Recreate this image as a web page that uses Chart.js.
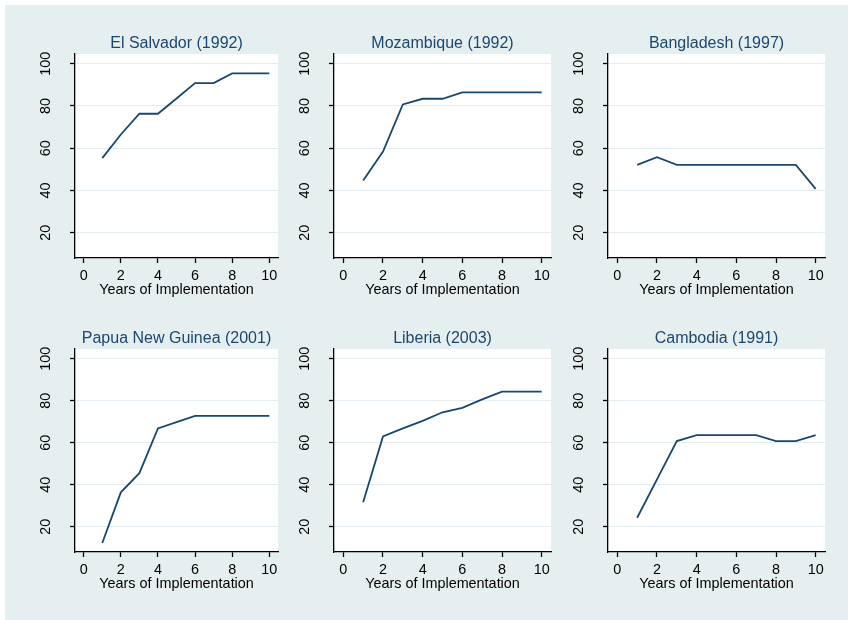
<!DOCTYPE html>
<html><head><meta charset="utf-8">
<script src="https://cdn.jsdelivr.net/npm/chart.js@4"></script>
<style>
html,body{margin:0;padding:0;background:#fff;width:848px;height:620px;overflow:hidden;}
#bg{position:absolute;left:5px;top:5px;width:843px;height:615px;background:#e6eff0;}
canvas{position:absolute;}
</style></head><body>
<div id="bg"></div>
<script>
// ---- data ----
const years = [1, 2, 3, 4, 5, 6, 7, 8, 9, 10];
const xTicks = [0, 2, 4, 6, 8, 10];
const yTicks = [20, 40, 60, 80, 100];
const titles = ['El Salvador (1992)', 'Mozambique (1992)', 'Bangladesh (1997)',
                'Papua New Guinea (2001)', 'Liberia (2003)', 'Cambodia (1991)'];
const xTitle = 'Years of Implementation';
const elSalvador     = [55.3, 66.5, 76.3, 76.3, 83.5, 90.8, 90.8, 95.4, 95.4, 95.4];
const mozambique     = [44.7, 58.4, 80.7, 83.4, 83.4, 86.4, 86.4, 86.4, 86.4, 86.4];
const bangladesh     = [52.1, 55.7, 52.1, 52.1, 52.1, 52.1, 52.1, 52.1, 52.1, 40.7];
const papuaNewGuinea = [12.3, 36.4, 45.5, 66.8, 69.8, 72.8, 72.8, 72.8, 72.8, 72.8];
const liberia        = [31.7, 63.0, 66.8, 70.4, 74.5, 76.6, 80.6, 84.3, 84.3, 84.3];
const cambodia       = [24.3, 42.6, 60.8, 63.6, 63.6, 63.6, 63.6, 60.8, 60.8, 63.6];
const seriesList = [elSalvador, mozambique, bangladesh, papuaNewGuinea, liberia, cambodia];

// ---- layout (plot-area boxes in page pixels) ----
const cols = [{L: 75, R: 278}, {L: 334, R: 551}, {L: 608, R: 825}];
const rows = [{T: 54, B: 258}, {T: 349, B: 552}];

Chart.defaults.font.family = "'Liberation Sans', Arial, Helvetica, sans-serif";

const whiteArea = {
  id: 'whiteArea',
  beforeDraw(chart) {
    const a = chart.chartArea, ctx = chart.ctx;
    ctx.save();
    ctx.fillStyle = '#ffffff';
    ctx.fillRect(a.left, a.top, a.right - a.left, a.bottom - a.top);
    ctx.restore();
  }
};
const yLabels = {
  id: 'yLabels',
  afterDraw(chart) {
    const s = chart.scales.y, ctx = chart.ctx;
    ctx.save();
    ctx.fillStyle = '#000';
    ctx.font = "14.4px 'Liberation Sans', Arial, sans-serif";
    ctx.textAlign = 'center';
    ctx.textBaseline = 'middle';
    s.ticks.forEach(t => {
      const py = s.getPixelForValue(t.value);
      ctx.save();
      ctx.translate(chart.chartArea.left - 29, py);
      ctx.rotate(-Math.PI / 2);
      ctx.fillText(String(t.value), 0, 0);
      ctx.restore();
    });
    ctx.restore();
  }
};

function makeChart(i) {
  const c = cols[i % 3], r = rows[Math.floor(i / 3)];
  const cv = document.createElement('canvas');
  const w = (c.R - c.L) + 100, h = (r.B - r.T) + 80;
  cv.width = w; cv.height = h;
  cv.style.width = w + 'px'; cv.style.height = h + 'px';
  cv.style.left = (c.L - 50) + 'px';
  cv.style.top = (r.T - 30) + 'px';
  document.body.appendChild(cv);
  const vals = seriesList[i];
  new Chart(cv, {
    type: 'line',
    data: {
      datasets: [{
        data: years.map((x, k) => ({x: x, y: vals[k]})),
        borderColor: '#1a476f', borderWidth: 1.8, pointRadius: 0, tension: 0, fill: false
      }]
    },
    options: {
      responsive: false, animation: false, events: [],
      layout: {padding: {left: 50, right: 50, top: 0, bottom: 0}},
      plugins: {
        legend: {display: false}, tooltip: {enabled: false},
        title: {display: true, text: titles[i], color: '#1a476f',
                font: {size: 16, weight: 'normal', lineHeight: 1}, padding: {top: 12, bottom: 2}}
      },
      scales: {
        x: {
          type: 'linear', min: -0.47, max: 10.47,
          afterBuildTicks: s => { s.ticks = xTicks.map(v => ({value: v})); },
          afterFit: s => { s.height = 50; },
          grid: {drawOnChartArea: false, drawTicks: true, tickLength: 5, tickColor: '#000', tickWidth: 1.3},
          border: {display: true, color: '#000', width: 1.3},
          ticks: {color: '#000', font: {size: 14.4}, padding: 4, maxRotation: 0, autoSkip: false},
          title: {display: true, text: xTitle, color: '#000', font: {size: 14.4}, padding: {top: 0, bottom: 9}}
        },
        y: {
          type: 'linear', min: 8, max: 104.6,
          afterBuildTicks: s => { s.ticks = yTicks.map(v => ({value: v})); },
          afterFit: s => { s.width = 0; },
          grid: {color: '#e3ecee', lineWidth: 1, drawTicks: true, tickLength: 5, tickColor: '#000', tickWidth: 1.3},
          border: {display: true, color: '#000', width: 1.3},
          ticks: {display: false}
        }
      }
    },
    plugins: [whiteArea, yLabels]
  });
}
for (let i = 0; i < 6; i++) makeChart(i);
</script>
</body></html>
